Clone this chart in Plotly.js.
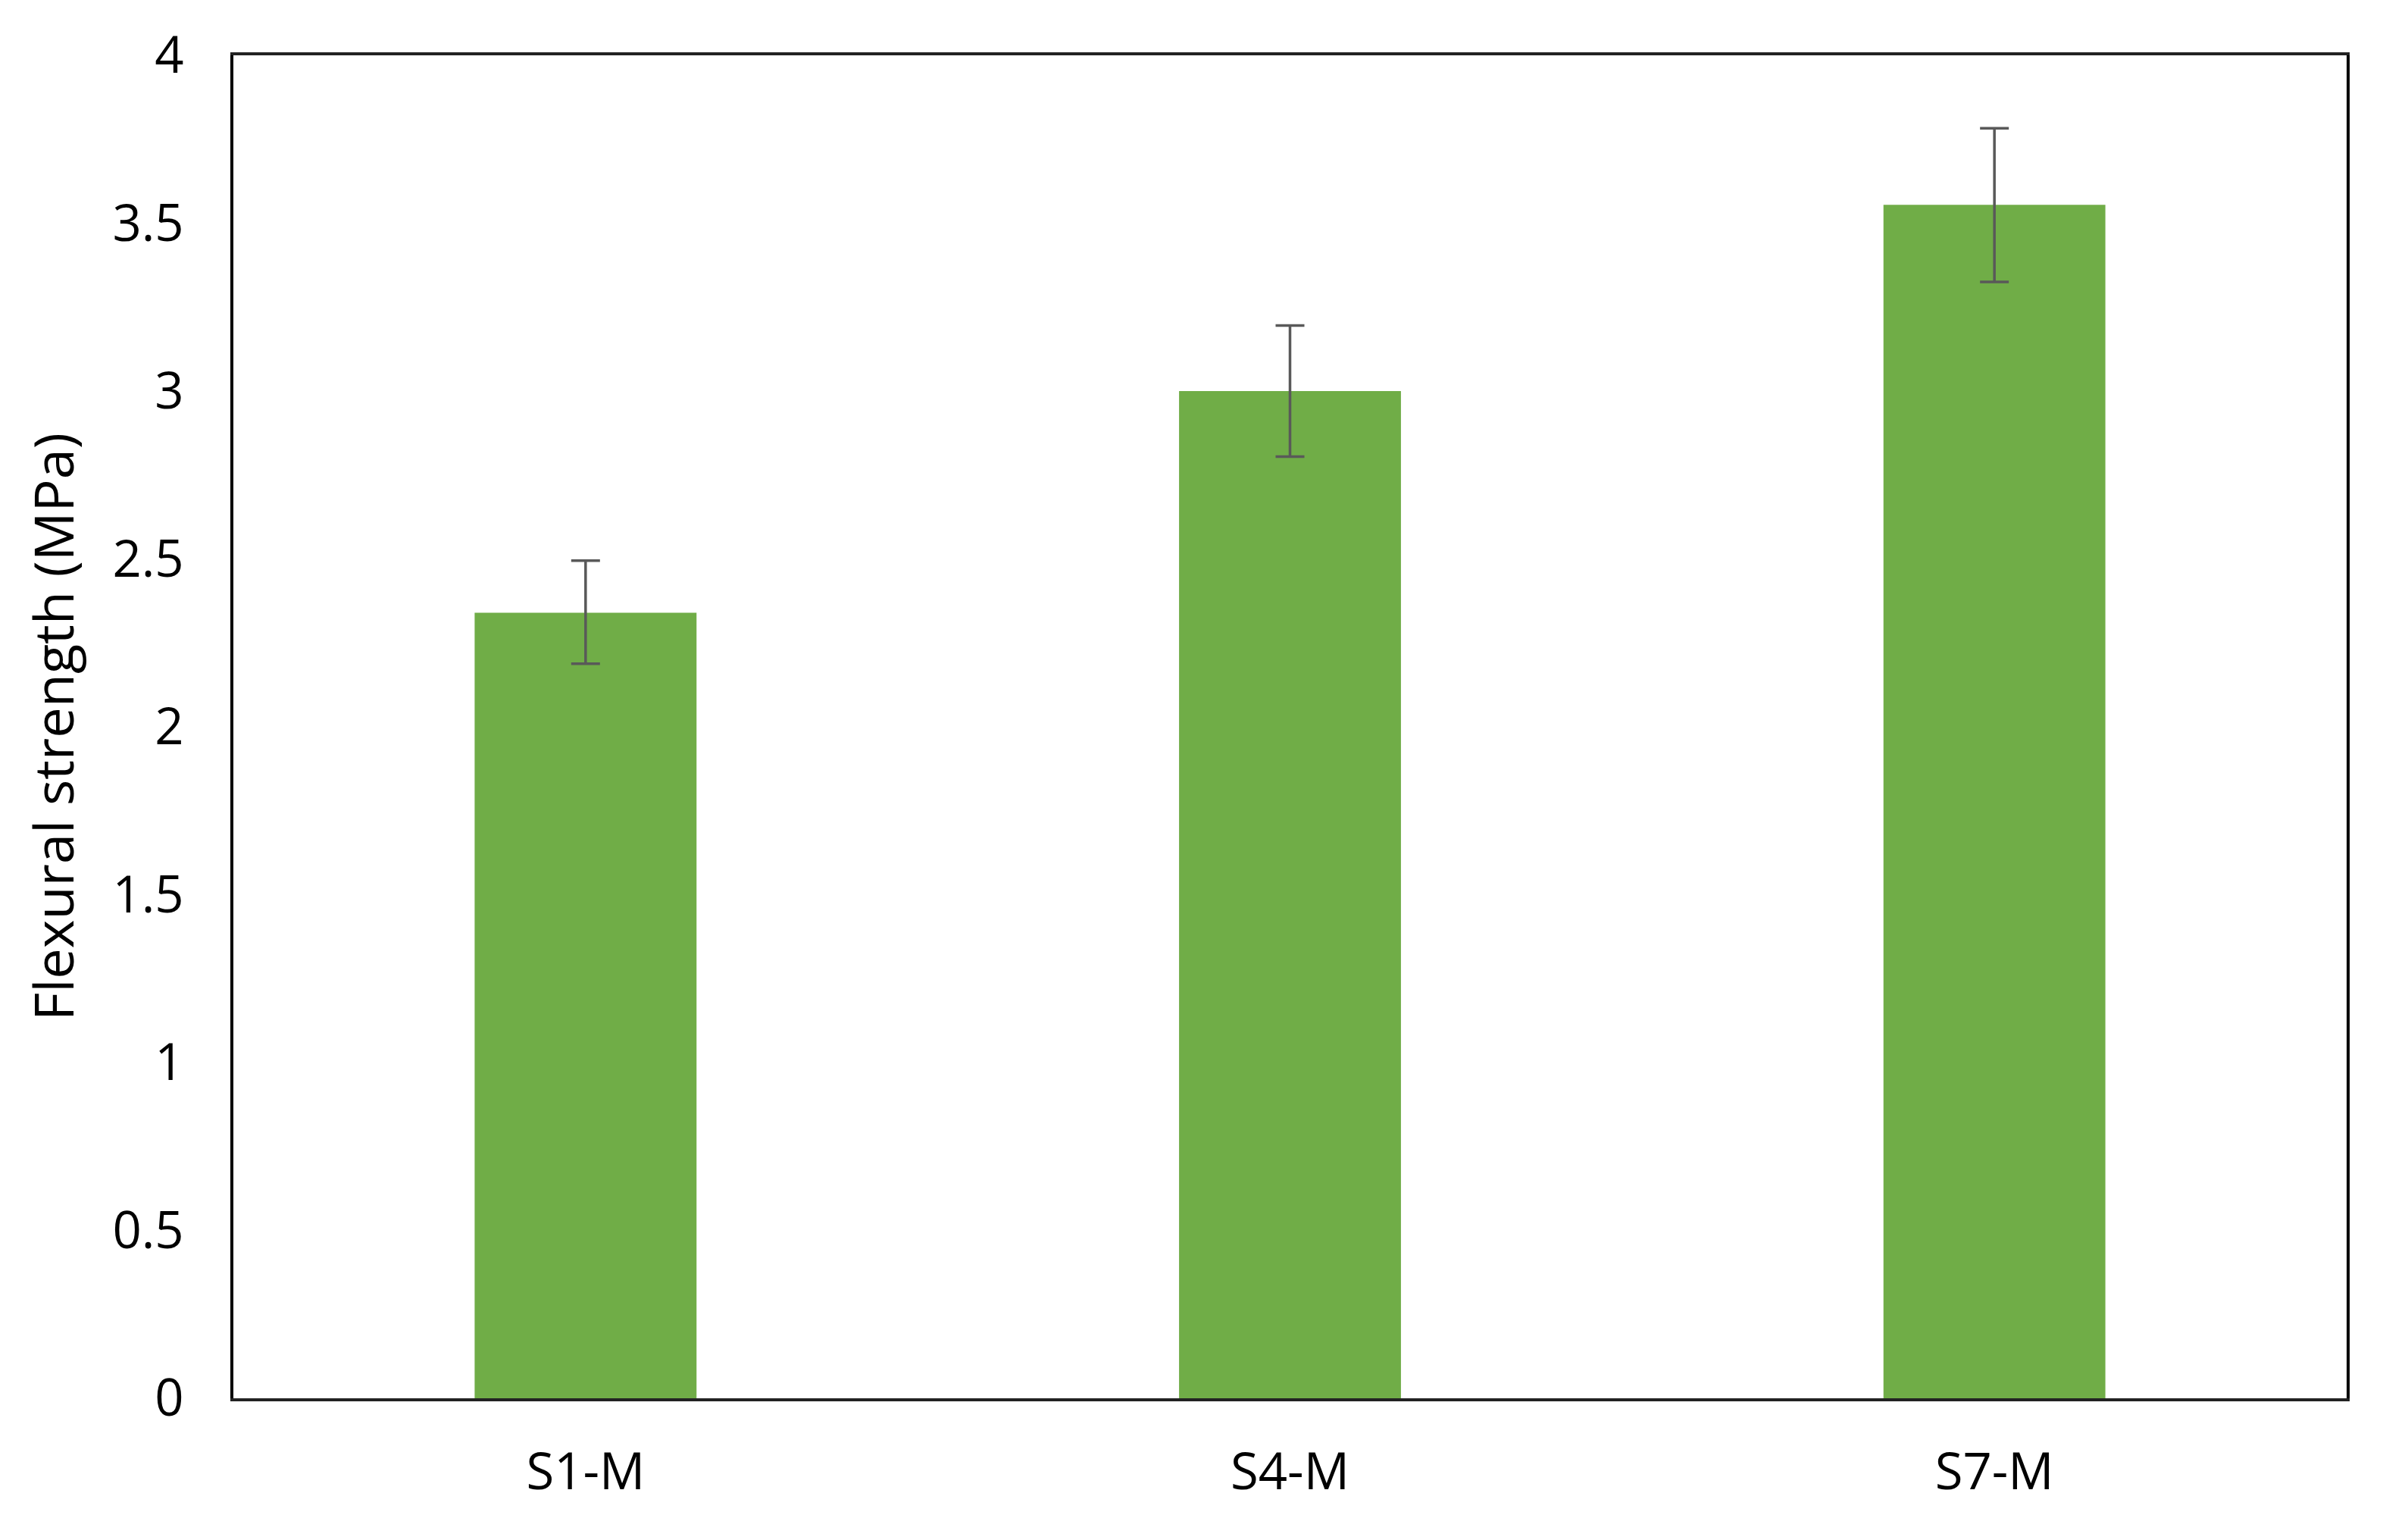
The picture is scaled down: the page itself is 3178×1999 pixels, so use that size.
<!DOCTYPE html>
<html>
<head>
<meta charset="utf-8">
<script src="https://cdn.plot.ly/plotly-3.0.1.min.js"></script>
<style>
  html, body { margin: 0; padding: 0; background: #fff; }
  #myDiv { width: 3178px; height: 1999px; }
</style>
</head>
<body>
<div id="myDiv"></div>
<script>
var samples = ["S1-M", "S4-M", "S7-M"];
var flexural = [2.34, 3.0, 3.555];
var errPlus = [0.155, 0.195, 0.228];
var errMinus = [0.152, 0.195, 0.23];

var trace1 = {
  x: samples,
  y: flexural,
  type: "bar",
  marker: { color: "#70AD47" },
  error_y: {
    type: "data",
    symmetric: false,
    array: errPlus,
    arrayminus: errMinus,
    color: "#595959",
    thickness: 3.5,
    width: 19,
  },
};

var data = [trace1];

var layout = {
  width: 3178,
  height: 1999,
  margin: { l: 308, r: 81, t: 73, b: 154 },
  bargap: 0.685,
  showlegend: false,
  paper_bgcolor: "#fff",
  plot_bgcolor: "#fff",
  font: { family: "'Open Sans', Lato, sans-serif", size: 66, color: "#000" },
  xaxis: {
    showline: true,
    mirror: true,
    linecolor: "#222",
    linewidth: 4,
    ticks: "",
    ticklabelstandoff: 36,
    tickfont: { size: 67 },
  },
  yaxis: {
    range: [0, 4],
    dtick: 0.5,
    showgrid: false,
    zeroline: false,
    showline: true,
    mirror: true,
    linecolor: "#000",
    linewidth: 4,
    ticks: "",
    ticklabelstandoff: 48,
    tickfont: { size: 67 },
    title: { text: "Flexural strength (MPa)", font: { size: 72 }, standoff: 28 },
  },
};

Plotly.newPlot("myDiv", data, layout, { displayModeBar: false });
</script>
</body>
</html>
